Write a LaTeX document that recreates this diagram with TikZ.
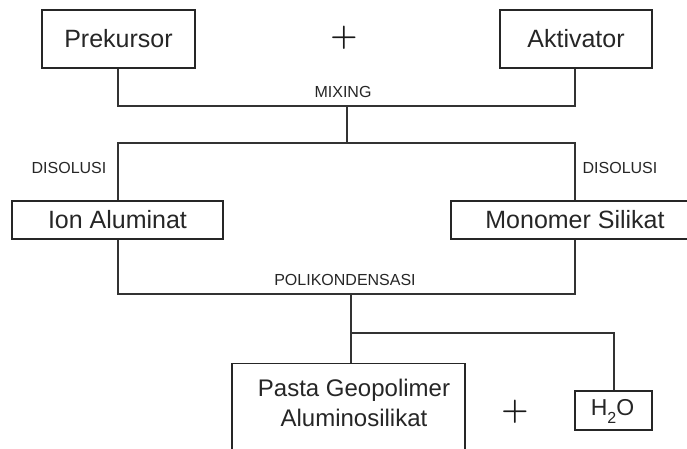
\documentclass[tikz,border=0pt]{standalone}
\usepackage{fontspec}
\setmainfont{Liberation Sans}
\begin{document}
\begin{tikzpicture}[x=1pt,y=-1pt,
  ln/.style={draw=black!80,line width=1.1pt},
  boxst/.style={draw=black!85,line width=1.1pt,fill=white,rectangle,inner sep=0pt},
  bigtxt/.style={font=\fontsize{25}{28}\selectfont,text=black!85},
  smalltxt/.style={font=\fontsize{16}{18}\selectfont,text=black!85,inner sep=0pt},
  plusst/.style={font=\fontfamily{lmr}\fontseries{bx}\fontsize{31}{31}\selectfont,text=black!90,inner sep=0pt}]
\useasboundingbox[fill=white] (0,0) rectangle (687,448);

% connectors
\coordinate (mixL) at (118,106);
\coordinate (mixR) at (575,106);
\coordinate (mixC) at (347,106);
\coordinate (disC) at (347,143);
\coordinate (disL) at (118,143);
\coordinate (disR) at (575,143);
\coordinate (polL) at (118,294);
\coordinate (polR) at (575,294);
\coordinate (polC) at (351,294);
\coordinate (brC) at (351,333);
\coordinate (brR) at (614,333);

% boxes
\node[boxst,bigtxt,minimum width=153pt,minimum height=58pt] (prek) at (118.5,39) {Prekursor};
\node[boxst,bigtxt,minimum width=152pt,minimum height=58pt] (akt) at (576,39) {Aktivator};
\node[boxst,bigtxt,minimum width=211pt,minimum height=38pt] (ion) at (117.5,220) {Ion Aluminat};
\node[boxst,bigtxt,minimum width=248pt,minimum height=38pt] (mono) at (575,220) {Monomer Silikat};
\node[boxst,minimum width=233pt,minimum height=110pt,anchor=north] (pastabox) at (348.5,363) {};
\node[align=center,font=\fontsize{24}{29.5}\selectfont,text=black!85,inner sep=0pt] (pasta) at (354,403) {Pasta Geopolimer\\Aluminosilikat};
\node[boxst,minimum width=77pt,minimum height=39pt] (h2o) at (613.5,410.5) {};
\node[anchor=base,inner sep=0pt,font=\fontsize{23}{25}\selectfont,text=black!85] (h2otxt) at (612.5,415) {H\raisebox{-8pt}{\fontsize{16}{16}\selectfont 2}O};

% plus signs
\node[plusst] (plus1) at (344,38) {+};
\node[plusst] (plus2) at (515,412) {+};

% lines
\draw[ln] (prek.south -| mixL) -- (mixL) -- (mixR) -- (akt.south -| mixR);
\draw[ln] (mixC) -- (disC);
\draw[ln] (ion.north -| disL) -- (disL) -- (disR) -- (mono.north -| disR);
\draw[ln] (ion.south -| polL) -- (polL) -- (polR) -- (mono.south -| polR);
\draw[ln] (polC) -- (pastabox.north -| polC);
\draw[ln] (brC) -- (brR) -- (h2o.north -| brR);

% labels
\node[smalltxt] (mixing) at (343,92) {MIXING};
\node[smalltxt] (disl) at (69,168) {DISOLUSI};
\node[smalltxt] (disr) at (620,168) {DISOLUSI};
\node[smalltxt] (poli) at (345,280) {POLIKONDENSASI};
\end{tikzpicture}
\end{document}
